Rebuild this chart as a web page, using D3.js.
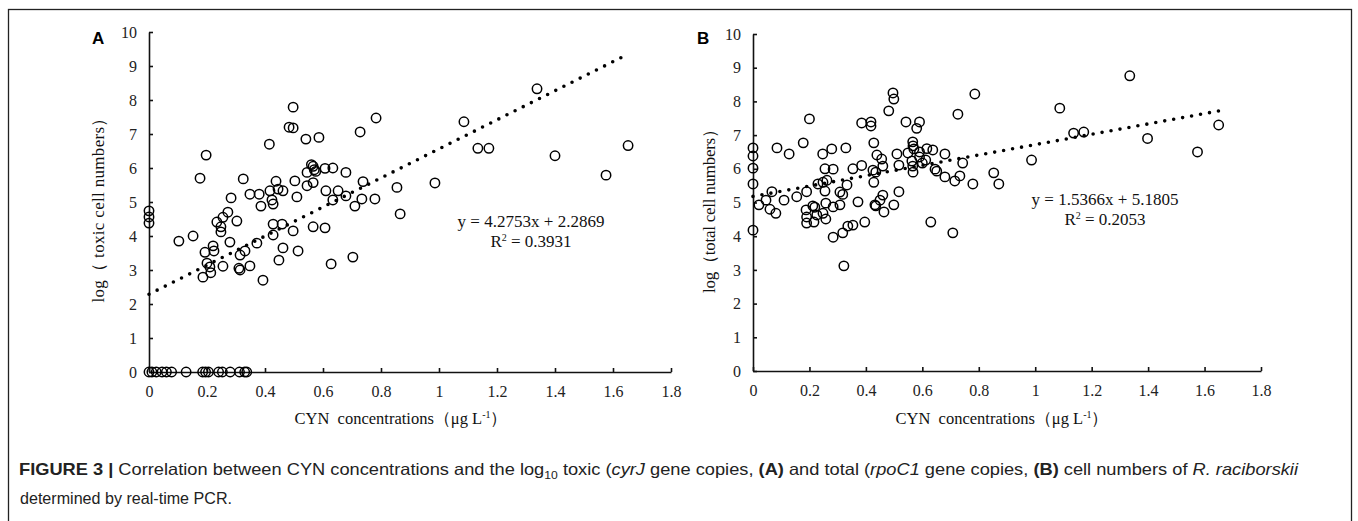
<!DOCTYPE html>
<html>
<head>
<meta charset="utf-8">
<script src="https://cdn.jsdelivr.net/npm/d3@7"></script>
<style>
  body { margin: 0; background: #fff; }
  svg { display: block; }
  .tick text { font-family: "Liberation Serif", "Times New Roman", serif; font-size: 16px; fill: #222; }
  .axis path, .axis line { stroke: #111; stroke-width: 1.6; }
</style>
</head>
<body>
<div id="fig"></div>
<script>
var svgWidth = 1358;
var svgHeight = 521;

// Panel A: CYN vs log toxic cell numbers
var toxicPoints = [
  [0,0],[0.01,0],[0.025,0],[0.045,0],[0.06,0],[0.078,0],[0.128,0],[0.185,0],[0.195,0],[0.205,0],
  [0.24,0],[0.253,0],[0.28,0],[0.312,0],[0.33,0],[0.337,0],
  [0,4.74],[0,4.56],[0,4.38],
  [0.103,3.85],[0.152,4.0],[0.176,5.7],[0.197,6.38],
  [0.186,2.79],[0.2,3.2],[0.21,3.09],[0.213,2.92],[0.193,3.52],[0.224,3.56],[0.221,3.71],
  [0.234,4.41],[0.255,4.55],[0.272,4.7],[0.248,4.27],[0.248,4.12],[0.283,5.12],[0.303,4.44],[0.279,3.82],[0.255,3.11],
  [0.31,3.05],[0.314,3.0],[0.314,3.44],[0.331,3.56],[0.348,3.12],[0.372,3.79],[0.393,2.7],[0.386,4.88],
  [0.325,5.68],[0.348,5.23],[0.38,5.23],
  [0.415,6.7],[0.483,7.2],[0.497,7.18],[0.497,7.79],[0.541,6.85],[0.586,6.9],[0.728,7.06],[0.783,7.47],
  [0.417,5.33],[0.445,5.38],[0.462,5.33],[0.438,5.61],[0.503,5.62],[0.545,5.48],[0.566,5.57],[0.545,5.87],
  [0.566,6.05],[0.57,5.95],[0.575,5.9],[0.56,6.1],[0.607,5.99],[0.634,6.0],[0.679,5.87],[0.738,5.6],[0.855,5.43],
  [0.61,5.33],[0.652,5.33],[0.634,5.06],[0.679,5.18],[0.71,4.88],[0.734,5.09],[0.779,5.09],[0.866,4.65],
  [0.428,4.03],[0.428,4.35],[0.428,4.94],[0.424,5.06],[0.459,4.35],[0.462,3.65],[0.448,3.29],[0.497,4.15],[0.514,3.56],[0.51,5.15],
  [0.566,4.27],[0.607,4.24],[0.628,3.18],[0.703,3.38],
  [0.986,5.56],[1.086,7.36],[1.134,6.58],[1.172,6.58],[1.338,8.33],[1.4,6.36],[1.576,5.79],[1.652,6.66]
];

// Panel B: CYN vs log total cell numbers
var totalPoints = [
  [0,6.62],[0,6.38],[0,6.02],[0,5.55],[0,4.18],
  [0.021,4.93],[0.046,5.07],[0.067,5.32],[0.06,4.8],[0.081,4.68],[0.11,5.07],[0.155,5.17],[0.19,5.32],
  [0.085,6.62],[0.128,6.44],[0.178,6.77],[0.2,7.48],
  [0.188,4.78],[0.19,4.57],[0.19,4.39],[0.212,4.9],[0.219,4.86],[0.216,4.42],[0.226,4.63],[0.248,4.68],[0.258,4.98],[0.258,4.51],[0.255,5.34],
  [0.23,5.55],[0.248,5.6],[0.262,5.66],[0.247,6.44],[0.279,6.59],[0.255,6.0],[0.284,5.99],
  [0.284,4.87],[0.308,4.93],[0.308,5.31],[0.318,5.24],[0.333,5.52],[0.329,6.62],[0.354,6.0],[0.385,6.1],
  [0.284,3.97],[0.318,4.1],[0.336,4.3],[0.354,4.33],[0.322,3.12],[0.372,5.02],[0.396,4.42],
  [0.385,7.36],[0.418,7.39],[0.418,7.27],[0.428,6.77],[0.439,6.41],[0.456,6.29],[0.425,5.96],[0.435,5.9],[0.46,6.08],[0.428,5.6],
  [0.432,4.93],[0.435,4.9],[0.45,5.07],[0.46,5.22],[0.464,4.72],[0.499,4.93],[0.517,5.32],
  [0.481,7.72],[0.496,8.25],[0.499,8.07],[0.51,6.44],[0.517,6.11],[0.542,7.39],[0.58,7.2],[0.59,7.39],
  [0.566,6.8],[0.567,6.68],[0.57,6.59],[0.549,6.47],[0.563,6.23],[0.566,6.08],[0.567,5.9],
  [0.59,6.5],[0.616,6.6],[0.637,6.56],[0.59,6.35],[0.612,6.26],[0.6,6.17],[0.645,5.99],[0.651,5.93],
  [0.68,6.44],[0.68,5.76],[0.715,5.64],[0.733,5.79],[0.726,7.62],[0.743,6.17],[0.779,5.55],[0.786,8.22],[0.853,5.88],[0.871,5.55],
  [0.63,4.42],[0.708,4.1],
  [0.987,6.26],[1.087,7.8],[1.136,7.06],[1.172,7.09],[1.335,8.76],[1.398,6.9],[1.575,6.5],[1.65,7.3]
];

// Linear trendline end points (from the fitted equations)
var trendA = [[0, 2.2869], [1.65, 9.3412]];
var trendB = [[0, 5.1805], [1.65, 7.7159]];

var xTicks = [0, 0.2, 0.4, 0.6, 0.8, 1.0, 1.2, 1.4, 1.6, 1.8];
var yTicks = [0, 1, 2, 3, 4, 5, 6, 7, 8, 9, 10];

var serif = "'Liberation Serif', 'Times New Roman', serif";
var sans = "'Liberation Sans', Arial, sans-serif";

var svg = d3.select("#fig")
  .append("svg")
  .attr("width", svgWidth)
  .attr("height", svgHeight);

// Figure frame
svg.append("rect")
  .attr("x", 8.5).attr("y", 9.5)
  .attr("width", 1343).attr("height", 530)
  .attr("fill", "none")
  .attr("stroke", "#222")
  .attr("stroke-width", 1.3);

function drawPanel(cfg) {
  var x = d3.scaleLinear().domain([0, 1.8]).range([cfg.x0, cfg.x1]);
  var y = d3.scaleLinear().domain([0, 10]).range([cfg.y0, cfg.y1]);
  var g = svg.append("g");

  g.append("g")
    .attr("class", "axis")
    .attr("transform", `translate(0, ${cfg.y0})`)
    .call(d3.axisBottom(x).tickValues(xTicks).tickSize(-4).tickSizeOuter(0).tickPadding(14)
      .tickFormat(d => String(+d.toFixed(1))));

  g.append("g")
    .attr("class", "axis")
    .attr("transform", `translate(${cfg.x0}, 0)`)
    .call(d3.axisLeft(y).tickValues(yTicks).tickSize(-4).tickSizeOuter(0).tickPadding(12));

  // trendline (round dots)
  g.append("line")
    .attr("x1", x(cfg.trend[0][0])).attr("y1", y(cfg.trend[0][1]))
    .attr("x2", x(cfg.trend[1][0])).attr("y2", y(cfg.trend[1][1]))
    .attr("stroke", "#000")
    .attr("stroke-width", 3.6)
    .attr("stroke-linecap", "round")
    .attr("stroke-dasharray", "0 9.1");

  g.selectAll("circle.pt")
    .data(cfg.points)
    .enter()
    .append("circle")
    .attr("class", "pt")
    .attr("cx", d => x(d[0]))
    .attr("cy", d => y(d[1]))
    .attr("r", 4.7)
    .attr("fill", "none")
    .attr("stroke", "#000")
    .attr("stroke-width", 1.5);

  // equation
  g.append("text")
    .attr("x", cfg.eqX).attr("y", cfg.eqY)
    .attr("text-anchor", "middle")
    .attr("textLength", 147)
    .style("font-family", serif)
    .style("font-size", "17px")
    .style("fill", "#111")
    .text(cfg.eq);
  var r2 = g.append("text")
    .attr("x", cfg.eqX).attr("y", cfg.eqY + 20)
    .attr("text-anchor", "middle")
    .style("font-family", serif)
    .style("font-size", "17px")
    .style("fill", "#111");
  r2.append("tspan").text("R");
  r2.append("tspan").attr("dy", -6).style("font-size", "10px").text("2");
  r2.append("tspan").attr("dy", 6).text(" = " + cfg.r2);

  // y axis label
  g.append("text")
    .attr("transform", `translate(${cfg.yLabX}, ${cfg.yLabY}) rotate(-90)`)
    .attr("text-anchor", "middle")
    .attr("textLength", cfg.yLabLen)
    .style("font-family", serif)
    .style("font-size", "17px")
    .style("fill", "#111")
    .text(cfg.yLabel);

  // x axis label
  var xl = g.append("text")
    .attr("x", cfg.xLabX).attr("y", 424)
    .attr("text-anchor", "middle")
    .style("font-family", serif)
    .style("font-size", "16.5px")
    .style("fill", "#111");
  xl.append("tspan").text("CYN\u00a0 concentrations\uff08\u03bcg L");
  xl.append("tspan").attr("dy", -6).style("font-size", "10px").text("-1");
  xl.append("tspan").attr("dy", 6).text("\uff09");

  // panel letter
  g.append("text")
    .attr("x", cfg.letterX).attr("y", 44)
    .style("font-family", sans)
    .style("font-weight", "bold")
    .style("font-size", "17px")
    .text(cfg.letter);
}

drawPanel({
  points: toxicPoints, trend: trendA,
  x0: 149, x1: 671, y0: 372, y1: 32,
  eq: "y = 4.2753x + 2.2869", r2: "0.3931", eqX: 531, eqY: 227,
  yLabel: "log\uff08 toxic cell numbers\uff09", yLabX: 104, yLabY: 206, yLabLen: 193,
  xLabX: 401, letter: "A", letterX: 92
});

drawPanel({
  points: totalPoints, trend: trendB,
  x0: 753, x1: 1261, y0: 371, y1: 34,
  eq: "y = 1.5366x + 5.1805", r2: "0.2053", eqX: 1105, eqY: 205,
  yLabel: "log\uff08total cell numbers\uff09", yLabX: 715, yLabY: 207, yLabLen: 172,
  xLabX: 1002, letter: "B", letterX: 697
});

// Caption
var cap = svg.append("text")
  .attr("x", 19).attr("y", 475)
  .attr("textLength", 1279)
  .attr("lengthAdjust", "spacingAndGlyphs")
  .style("font-family", sans)
  .style("font-size", "16.5px")
  .style("fill", "#222");
cap.append("tspan").style("font-weight", "bold").text("FIGURE 3 | ");
cap.append("tspan").text("Correlation between CYN concentrations and the log");
cap.append("tspan").attr("dy", 4).style("font-size", "11px").text("10");
cap.append("tspan").attr("dy", -4).text(" toxic (");
cap.append("tspan").style("font-style", "italic").text("cyrJ");
cap.append("tspan").text(" gene copies, ");
cap.append("tspan").style("font-weight", "bold").text("(A)");
cap.append("tspan").text(" and total (");
cap.append("tspan").style("font-style", "italic").text("rpoC1");
cap.append("tspan").text(" gene copies, ");
cap.append("tspan").style("font-weight", "bold").text("(B)");
cap.append("tspan").text(" cell numbers of ");
cap.append("tspan").style("font-style", "italic").text("R. raciborskii");

svg.append("text")
  .attr("x", 20).attr("y", 504)
  .attr("textLength", 212)
  .attr("lengthAdjust", "spacingAndGlyphs")
  .style("font-family", sans)
  .style("font-size", "16.5px")
  .style("fill", "#222")
  .text("determined by real-time PCR.");
</script>
</body>
</html>
